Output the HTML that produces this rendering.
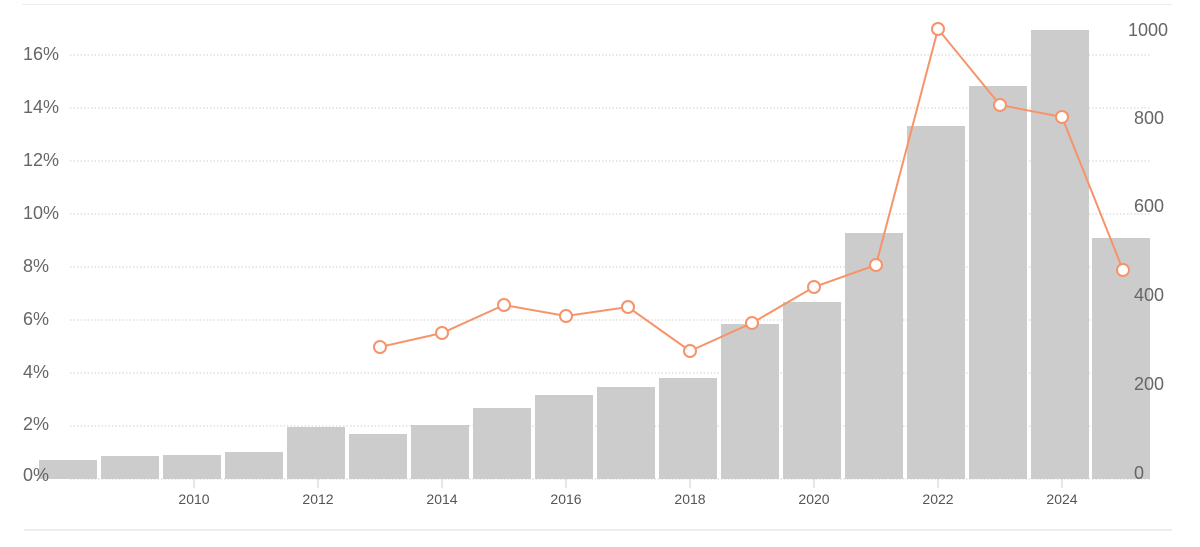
<!DOCTYPE html>
<html><head><meta charset="utf-8"><style>
body{margin:0;background:#fff;}
svg{display:block;font-family:"Liberation Sans",sans-serif;}
</style></head><body>
<svg width="1200" height="547" viewBox="0 0 1200 547">
<line x1="22" y1="4.5" x2="1172" y2="4.5" stroke="#eeeeee"/>
<line x1="24" y1="530" x2="1172" y2="530" stroke="#e8e8ee" stroke-width="1.5"/>
<g stroke="#cfcfcf" stroke-dasharray="1.5,2" stroke-width="1">
<line x1="70" y1="55" x2="1150" y2="55"/>
<line x1="70" y1="108" x2="1150" y2="108"/>
<line x1="70" y1="161" x2="1150" y2="161"/>
<line x1="70" y1="214" x2="1150" y2="214"/>
<line x1="70" y1="267" x2="1150" y2="267"/>
<line x1="70" y1="320" x2="1150" y2="320"/>
<line x1="70" y1="373" x2="1150" y2="373"/>
<line x1="70" y1="426" x2="1150" y2="426"/>
</g>
<g fill="#cccccc">
<rect x="39" y="460" width="58" height="19"/>
<rect x="101" y="456" width="58" height="23"/>
<rect x="163" y="455" width="58" height="24"/>
<rect x="225" y="452" width="58" height="27"/>
<rect x="287" y="427" width="58" height="52"/>
<rect x="349" y="434" width="58" height="45"/>
<rect x="411" y="425" width="58" height="54"/>
<rect x="473" y="408" width="58" height="71"/>
<rect x="535" y="395" width="58" height="84"/>
<rect x="597" y="387" width="58" height="92"/>
<rect x="659" y="378" width="58" height="101"/>
<rect x="721" y="324" width="58" height="155"/>
<rect x="783" y="302" width="58" height="177"/>
<rect x="845" y="233" width="58" height="246"/>
<rect x="907" y="126" width="58" height="353"/>
<rect x="969" y="86" width="58" height="393"/>
<rect x="1031" y="30" width="58" height="449"/>
<rect x="1092" y="238" width="58" height="241"/>
</g>
<line x1="70" y1="479" x2="1150" y2="479" stroke="#cfcfcf" stroke-dasharray="1.5,2"/>
<g stroke="#cccccc">
<line x1="194" y1="479" x2="194" y2="488"/><line x1="318" y1="479" x2="318" y2="488"/>
<line x1="442" y1="479" x2="442" y2="488"/><line x1="566" y1="479" x2="566" y2="488"/>
<line x1="690" y1="479" x2="690" y2="488"/><line x1="814" y1="479" x2="814" y2="488"/>
<line x1="938" y1="479" x2="938" y2="488"/><line x1="1062" y1="479" x2="1062" y2="488"/>
</g>
<g fill="#555" font-size="14" text-anchor="middle">
<text x="194" y="504">2010</text><text x="318" y="504">2012</text><text x="442" y="504">2014</text>
<text x="566" y="504">2016</text><text x="690" y="504">2018</text><text x="814" y="504">2020</text>
<text x="938" y="504">2022</text><text x="1062" y="504">2024</text>
</g>
<g fill="#666" font-size="18">
<text x="23" y="60">16%</text><text x="23" y="113">14%</text><text x="23" y="166">12%</text>
<text x="23" y="219">10%</text><text x="23" y="272">8%</text><text x="23" y="325">6%</text>
<text x="23" y="378">4%</text><text x="23" y="430">2%</text><text x="23" y="481">0%</text>
</g>
<g fill="#666" font-size="18">
<text x="1128" y="36">1000</text><text x="1134" y="124">800</text><text x="1134" y="212">600</text>
<text x="1134" y="301">400</text><text x="1134" y="390">200</text><text x="1134" y="479">0</text>
</g>
<polyline fill="none" stroke="#f7936a" stroke-width="2" points="380,347 442,333 504,305 566,316 628,307 690,351 752,323 814,287 876,265 938,29 1000,105 1062,117 1123,270"/>
<g fill="#fff" stroke="#f7936a" stroke-width="2">
<circle cx="380" cy="347" r="6"/><circle cx="442" cy="333" r="6"/><circle cx="504" cy="305" r="6"/>
<circle cx="566" cy="316" r="6"/><circle cx="628" cy="307" r="6"/><circle cx="690" cy="351" r="6"/>
<circle cx="752" cy="323" r="6"/><circle cx="814" cy="287" r="6"/><circle cx="876" cy="265" r="6"/>
<circle cx="938" cy="29" r="6"/><circle cx="1000" cy="105" r="6"/><circle cx="1062" cy="117" r="6"/>
<circle cx="1123" cy="270" r="6"/>
</g>
</svg>
</body></html>
